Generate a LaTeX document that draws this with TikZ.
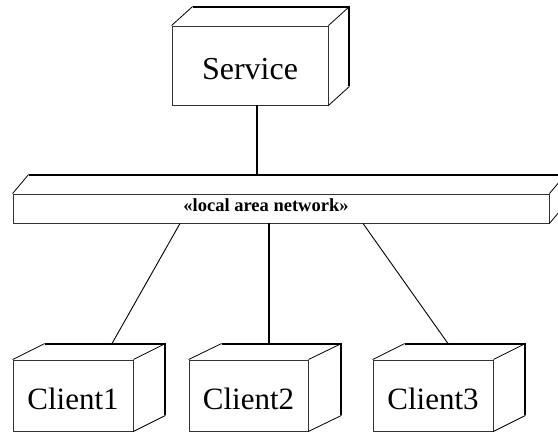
\documentclass[tikz,border=0pt]{standalone}
\usepackage{fontspec}
\setmainfont{Liberation Serif}
\begin{document}
\begin{tikzpicture}[x=1pt,y=-1pt,
  front/.style={draw=black!80, line width=0.9pt, inner sep=0pt, fill=white},
  backedge/.style={draw=black, line width=2pt},
  sideedge/.style={draw=black, line width=0.8pt},
  conn/.style={draw=black, line width=1.2pt},
  bigtext/.style={font=\fontsize{32}{36}\selectfont, text height=27pt, text depth=0pt},
  clienttext/.style={font=\fontsize{31}{35}\selectfont, text height=27pt, text depth=0pt},
  lantext/.style={font=\fontsize{18.5}{21}\selectfont\bfseries, inner sep=0pt}]
\newcommand{\cubeback}[3]{%
  \draw[sideedge] (#1.north west) -- ++(#2,#3);
  \draw[sideedge] (#1.north east) -- ++(#2,#3);
  \draw[sideedge] (#1.south east) -- ++(#2,#3);
  \draw[backedge, line join=miter] ([shift={(#2,#3)}]#1.north west) -- ([shift={(#2,#3)}]#1.north east) -- ([shift={(#2,#3)}]#1.south east);
}
\useasboundingbox (0,0) rectangle (558,434);
\clip (0,0) rectangle (558,434);
% nodes (front faces)
\node[front, bigtext, minimum width=156pt, minimum height=79pt] (service) at (250,65.5) {Service};
\node[front, minimum width=536pt, minimum height=29pt] (lan) at (281,208.5) {};
\node[lantext] (lanlabel) at (266,205.5) {«local area network»};
\node[front, clienttext, minimum width=120pt, minimum height=71pt] (client1) at (73,395.5) {Client1};
\node[front, clienttext, minimum width=119pt, minimum height=71pt] (client2) at (248.5,395.5) {Client2};
\node[front, clienttext, minimum width=120pt, minimum height=71pt] (client3) at (433,395.5) {Client3};
% 3D back parts
\cubeback{service}{21}{-19}
\cubeback{lan}{16}{-19}
\cubeback{client1}{32}{-16}
\cubeback{client2}{33}{-16}
\cubeback{client3}{32}{-16}
% connectors
\draw[conn] ([xshift=7pt]service.south) -- ([shift={(-24,-19)}]lan.north);
\draw[conn, line width=0.9pt] ([xshift=-101pt]lan.south) -- ([shift={(39,-16)}]client1.north);
\draw[conn] ([xshift=-12pt]lan.south) -- ([shift={(20.5,-16)}]client2.north);
\draw[conn, line width=0.9pt] ([xshift=82pt]lan.south) -- ([shift={(15,-16)}]client3.north);
\end{tikzpicture}
\end{document}
